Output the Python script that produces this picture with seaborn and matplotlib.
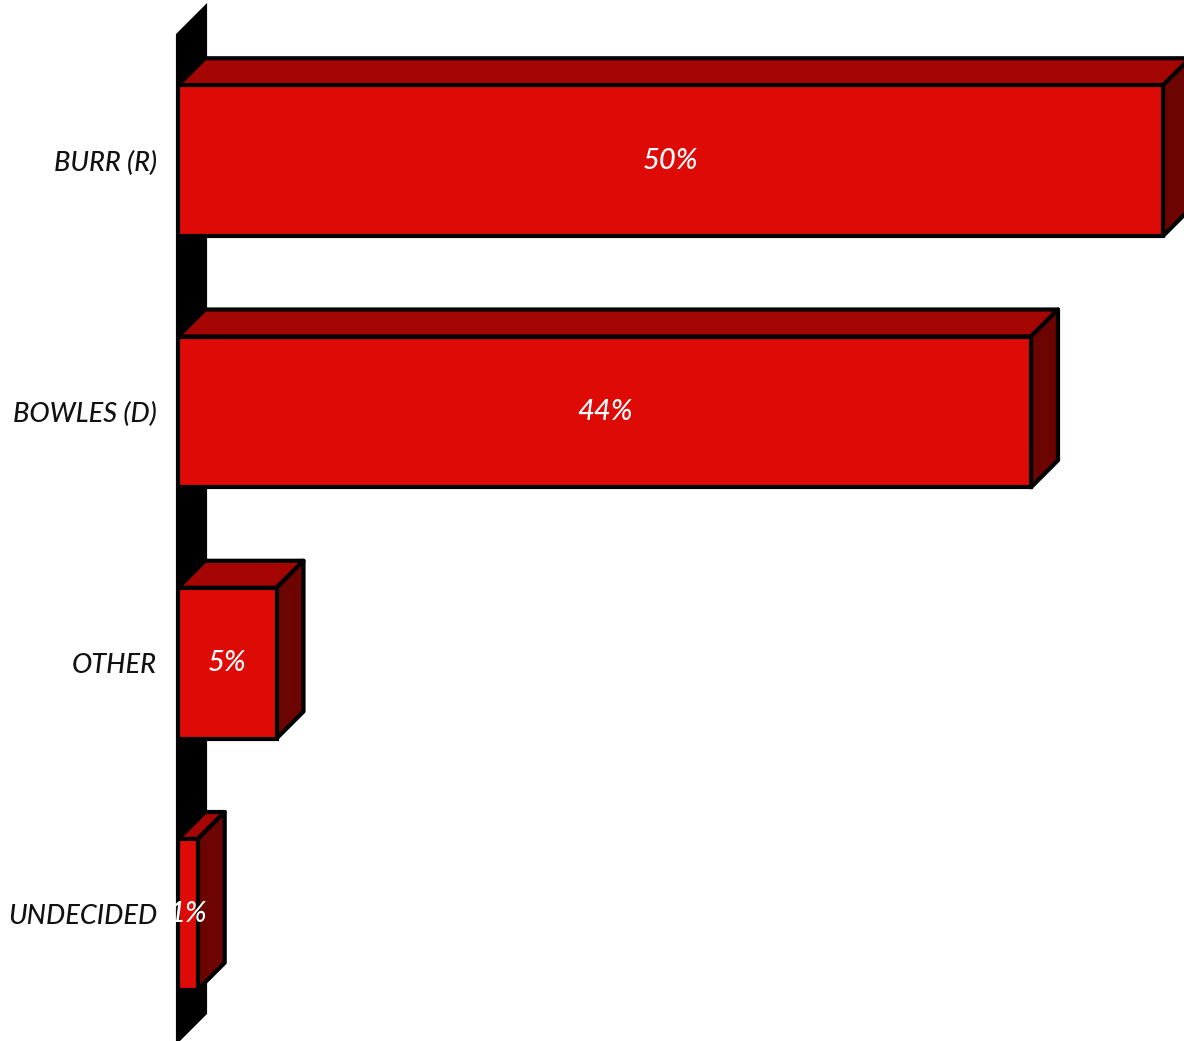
import matplotlib
matplotlib.use('Agg')
import matplotlib.pyplot as plt
from matplotlib.patches import Polygon
import seaborn as sns
import numpy as np
import pandas as pd

candidates = ["BURR (R)", "BOWLES (D)", "OTHER", "UNDECIDED"]
shares = [50.0, 43.3, 5.0, 1.0]
share_labels = ["50%", "44%", "5%", "1%"]

front_color = "#DD0A05"
top_color = "#A50603"
side_color = "#6C0402"
depth_px = 27

df = pd.DataFrame({"candidate": candidates, "share": shares})

sns.set_style("white")
plt.rcParams['font.family'] = ['Lato', 'DejaVu Sans']

fig = plt.figure(figsize=(11.84, 10.41), dpi=100)
W, H = 1184, 1041
ax = fig.add_axes([178 / W, 1 - 1040 / H, (W - 178) / W, 1005 / H])

sns.barplot(data=df, x="share", y="candidate", orient="h", color=front_color,
            width=0.6, edgecolor="black", linewidth=3, saturation=1, ax=ax, zorder=3)

ax.set_xlim(0, (W - 178) / 19.7)
ax.set_ylim(3.5, -0.5)

# depth offset in data units
p0 = ax.transData.transform((0, 0))
ddx, ddy = ax.transData.inverted().transform(p0 + np.array([depth_px, depth_px]))

# back wall
ytop, ybot = -0.5, 3.5
wall = Polygon([(0, ytop), (ddx, ytop + ddy), (ddx, ybot + ddy), (0, ybot)],
               closed=True, facecolor="black", edgecolor="black", linewidth=3,
               zorder=1, clip_on=False)
ax.add_patch(wall)

# 3d top and side faces
for bar, lab in zip(ax.patches[:len(candidates)], share_labels):
    x0, y0 = bar.get_x(), bar.get_y()
    w, h = bar.get_width(), bar.get_height()
    top = Polygon([(x0, y0), (x0 + w, y0), (x0 + w + ddx, y0 + ddy), (x0 + ddx, y0 + ddy)],
                  closed=True, facecolor=top_color, edgecolor="black", linewidth=3,
                  joinstyle="round", zorder=2)
    side = Polygon([(x0 + w, y0), (x0 + w + ddx, y0 + ddy), (x0 + w + ddx, y0 + h + ddy), (x0 + w, y0 + h)],
                   closed=True, facecolor=side_color, edgecolor="black", linewidth=3,
                   joinstyle="round", zorder=2)
    ax.add_patch(top)
    ax.add_patch(side)
    ax.text(x0 + w / 2, y0 + h / 2, lab, ha="center", va="center", color="white",
            fontsize=21, fontstyle="italic", fontweight="medium", zorder=4)

ax.set_xlabel("")
ax.set_ylabel("")
ax.set_xticks([])
ax.tick_params(axis="y", length=0, pad=15, labelsize=19.5)
for t in ax.get_yticklabels():
    t.set_fontstyle("italic")
    t.set_fontweight("medium")
    t.set_color("#111111")
sns.despine(ax=ax, left=True, bottom=True)
ax.patch.set_alpha(0)

plt.savefig("out.png", dpi=100)
plt.close()
